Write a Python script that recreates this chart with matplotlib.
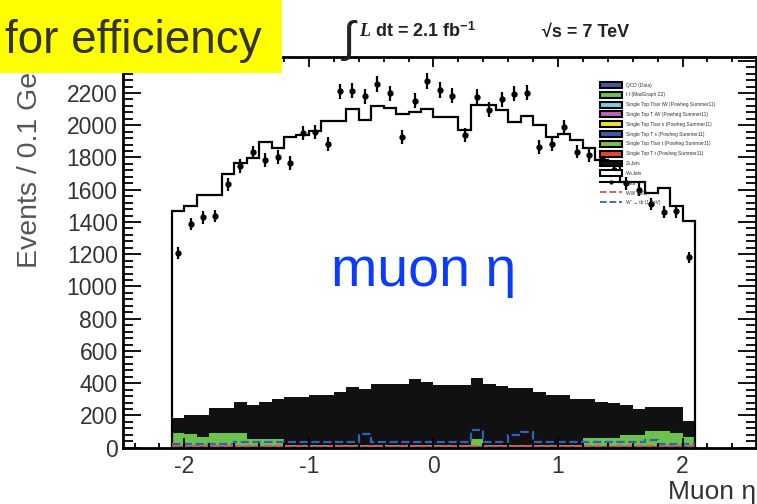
import numpy as np
import matplotlib
matplotlib.use("Agg")
import matplotlib.pyplot as plt
from matplotlib.patches import Patch, Rectangle
from matplotlib.lines import Line2D
from matplotlib.ticker import MultipleLocator

plt.rcParams['font.family'] = ['Liberation Sans', 'DejaVu Sans']
plt.rcParams['axes.unicode_minus'] = False
plt.rcParams['mathtext.fontset'] = 'custom'
plt.rcParams['mathtext.rm'] = 'Liberation Sans:bold'
plt.rcParams['mathtext.it'] = 'Liberation Serif:italic:bold'
plt.rcParams['mathtext.bf'] = 'Liberation Sans:bold'

# muon eta binning, 0.1 wide from -2.1 to 2.1
eta_edges = np.linspace(-2.1, 2.1, 43)
eta_centres = 0.5 * (eta_edges[:-1] + eta_edges[1:])

data_counts = [1207, 1385, 1428, 1436, 1635, 1746, 1831, 1784, 1805, 1767,
               1951, 1958, 1885, 2210, 2215, 2179, 2255, 2198, 1926, 2151,
               2274, 2218, 2183, 1941, 2177, 2096, 2160, 2196, 2202, 1865,
               1882, 1990, 1837, 1817, 1790, 1720, 1640, 1600, 1510, 1460,
               1465, 1180]

# stacked MC samples, bottom to top
single_top_t = [7, 7, 7, 7, 7, 7, 7, 7, 7, 7, 7, 7, 7, 7, 7, 7, 7, 7, 7, 7, 7,
                7, 7, 7, 7, 7, 7, 7, 7, 7, 7, 7, 7, 7, 7, 7, 7, 7, 7, 7, 7, 7]
single_top_tw = [6, 6, 6, 6, 6, 6, 6, 6, 6, 6, 6, 6, 6, 6, 6, 6, 6, 6, 6, 6, 6,
                 6, 6, 6, 6, 6, 6, 6, 6, 6, 6, 6, 6, 6, 6, 6, 6, 6, 6, 6, 6, 6]
ttbar = [76, 72, 55, 76, 76, 76, 41, 41, 41, 4, 4, 4, 4, 4, 4, 4, 4, 4, 4, 4, 4,
         4, 4, 4, 42, 4, 4, 4, 4, 4, 4, 4, 4, 45, 45, 45, 66, 66, 91, 91, 76, 55]
z_jets = [93, 118, 135, 159, 159, 197, 211, 232, 246, 300, 300, 310, 310, 331,
          362, 347, 378, 378, 378, 408, 393, 372, 372, 372, 376, 378, 366, 352,
          352, 331, 310, 310, 283, 242, 228, 218, 186, 159, 147, 147, 162, 100]
w_jets = [1287, 1299, 1365, 1320, 1449, 1479, 1531, 1610, 1558, 1610, 1624,
          1635, 1701, 1680, 1723, 1670, 1726, 1710, 1676, 1654, 1690, 1662,
          1662, 1583, 1694, 1730, 1713, 1653, 1690, 1653, 1600, 1620, 1610,
          1558, 1499, 1484, 1380, 1407, 1330, 1359, 1245, 1235]

# overlaid (not stacked) curves
ww_line = [12, 12, 12, 12, 12, 12, 12, 12, 12, 12, 12, 12, 12, 12, 12, 12, 12,
           12, 12, 12, 12, 12, 12, 12, 12, 12, 12, 12, 12, 12, 12, 12, 12, 12,
           12, 12, 12, 12, 12, 12, 12, 12]
signal_line = [20, 20, 20, 20, 20, 33, 33, 33, 33, 33, 33, 33, 33, 33, 33, 83,
               33, 33, 33, 33, 33, 33, 33, 33, 110, 33, 33, 79, 95, 33, 33, 33,
               33, 33, 33, 33, 33, 33, 45, 20, 20, 20]

legend_labels = ["QCD (Data)", "t t\u0304 (MadGraph Z2)",
                 "Single Top Tbar tW (Powheg Summer11)",
                 "Single Top T tW (Powheg Summer11)",
                 "Single Top Tbar s (Powheg Summer11)",
                 "Single Top T s (Powheg Summer11)",
                 "Single Top Tbar t (Powheg Summer11)",
                 "Single Top T t (Powheg Summer11)",
                 "Z+Jets", "W+Jets", "Data", "WW (MC)", "W' \u2192 tb (1 TeV)"]
legend_colors = ["#4a56a6", "#6cc24a", "#72d0e2", "#b866b8", "#f2e424",
                 "#3a5fb2", "#7cc244", "#e8462c", "#111111", "#ffffff"]

fig = plt.figure(figsize=(7.57, 5.04), dpi=100)
ax = fig.add_axes([123.3 / 757, 56.3 / 504, (756 - 123.3) / 757, 391 / 504])

bottom = np.zeros(len(eta_centres))
stack = [(single_top_t, "#e8462c"), (single_top_tw, "#3a5fb2"),
         (ttbar, "#6cc24a"), (z_jets, "#111111"), (w_jets, "#ffffff")]
for vals, col in stack:
    top = bottom + np.array(vals)
    ax.stairs(top, eta_edges, baseline=bottom, fill=True, color=col, lw=0)
    bottom = top

ax.stairs(bottom, eta_edges, baseline=0, color="black", lw=1.6)
ax.stairs(ww_line, eta_edges, baseline=None, color="#e05050", lw=1.4, ls="--")
ax.stairs(signal_line, eta_edges, baseline=None, color="#3060c0", lw=1.6, ls="--")

ax.errorbar(eta_centres, data_counts, yerr=np.sqrt(data_counts), fmt="o",
            color="black", ms=3.5, elinewidth=1.6, capsize=0, zorder=5)

ax.set_xlim(-2.49, 2.59)
ax.set_ylim(0, 2425)
ax.xaxis.set_major_locator(MultipleLocator(1))
ax.xaxis.set_minor_locator(MultipleLocator(0.2))
ax.yaxis.set_major_locator(MultipleLocator(200))
ax.yaxis.set_minor_locator(MultipleLocator(40))
ax.tick_params(which="both", direction="in", top=True, right=True, width=1.3,
               labelsize=16.5, colors="black")
ax.tick_params(axis="x", which="major", length=7, pad=5)
ax.tick_params(axis="x", which="minor", length=3.5)
ax.tick_params(axis="y", which="major", length=13, pad=4)
ax.tick_params(axis="y", which="minor", length=7)
for lab in ax.get_xticklabels() + ax.get_yticklabels():
    lab.set_color("#333333")
for sp in ax.spines.values():
    sp.set_linewidth(2)

ax.set_xlabel("Muon \u03b7", loc="right", fontsize=19, color="#333333", labelpad=2)
fig.text(30 / 757, 1 - 268 / 504, "Events / 0.1 GeV", rotation=90,
         ha="center", va="bottom", fontsize=20.5, color="#555555")

ax.text(-0.08, 1000, "muon \u03b7", ha="center", va="baseline",
        fontsize=40, color="#0a3cff")

handles = [Patch(facecolor=c, edgecolor="black", lw=1.5) for c in legend_colors]
handles.append(Line2D([], [], color="black", marker="o", ms=2, lw=1.5))
handles.append(Line2D([], [], color="#e05050", ls="--", lw=1.3))
handles.append(Line2D([], [], color="#3060c0", ls="--", lw=1.3))
fig.legend(handles, legend_labels, loc="upper left",
           bbox_to_anchor=(600 / 757, 1 - 82 / 504), bbox_transform=fig.transFigure,
           frameon=False, fontsize=3.5, handlelength=4.5, handleheight=1.5,
           labelspacing=0.8, handletextpad=0.8, borderpad=0, borderaxespad=0,
           labelcolor="#333333")

# header
fig.text(342 / 757, 1 - 52 / 504, "\u222b", fontsize=32, color="#222222",
         va="baseline")
fig.text(359 / 757, 1 - 37 / 504, r"$\mathit{L}$ dt = 2.1 fb$^{-1}$",
         fontsize=13, fontweight="bold", color="#222222", va="baseline")
fig.text(542 / 757, 1 - 37 / 504, "\u221as = 7 TeV", fontsize=13,
         fontweight="bold", color="#222222", va="baseline")

fig.add_artist(Rectangle((0, 1 - 73 / 504), 282 / 757, 73 / 504,
                         transform=fig.transFigure, facecolor="#ffff00",
                         edgecolor="none", zorder=5))
fig.text(5 / 757, 1 - 53 / 504, "for efficiency", fontsize=33, color="#333333",
         va="baseline", zorder=6)

fig.savefig("out.png", dpi=100)
